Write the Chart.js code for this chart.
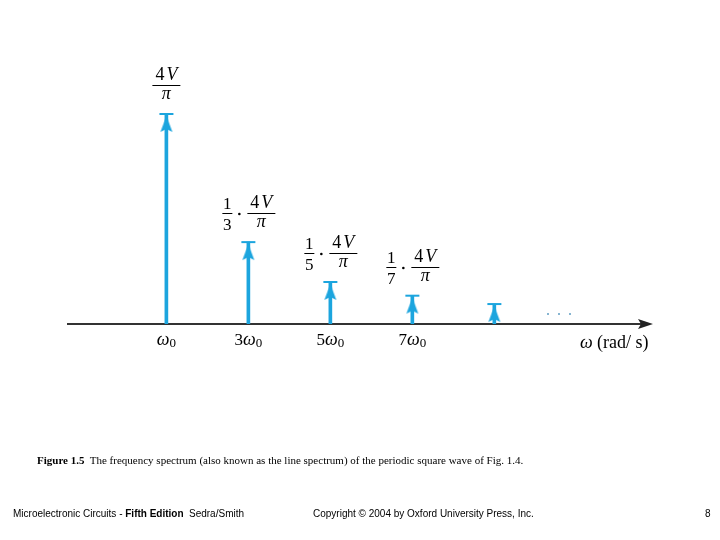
<!DOCTYPE html>
<html>
<head>
<meta charset="utf-8">
<script src="https://cdn.jsdelivr.net/npm/chart.js@4"></script>
<style>
  body { margin: 0; background: #fff; }
  #wrap { position: relative; width: 720px; height: 540px; }
  #spectrum { position: absolute; left: 0; top: 0; }
  .txt { position: absolute; white-space: nowrap; color: #000; }
  .cap { font: 11px "Liberation Serif", serif; left: 37px; top: 454px; }
  .foot { font: 10px "Liberation Sans", Arial, sans-serif; top: 508px; }
</style>
</head>
<body>
<div id="wrap">
  <canvas id="spectrum" width="720" height="540"></canvas>
  <div class="txt cap"><b>Figure 1.5</b>&nbsp; The frequency spectrum (also known as the line spectrum) of the periodic square wave of Fig. 1.4.</div>
  <div class="txt foot" style="left:13px">Microelectronic Circuits - <b>Fifth Edition</b></div>
  <div class="txt foot" style="left:189px">Sedra/Smith</div>
  <div class="txt foot" style="left:313px">Copyright © 2004 by Oxford University Press, Inc.</div>
  <div class="txt foot" style="left:705px">8</div>
</div>
<script>
// harmonic number (multiple of ω0) and relative amplitude
const harmonics = [1, 3, 5, 7, 9];
const amplitudes = [1.0, 0.39, 0.20, 0.135, 0.095];
const tickValues = [1, 3, 5, 7];
const tickPrefix = ["", "3", "5", "7"];   // drawn as <prefix>ω₀
const divisors = [1, 3, 5, 7, null];      // label is (1/n)·4V/π, none for the last one

const blue = "#1ca5de";
const serif = '"Liberation Serif", "DejaVu Serif", serif';

// arrow head + cap, centred on the top of each line
function arrowHead() {
  const c = document.createElement("canvas");
  c.width = 18; c.height = 44;
  const g = c.getContext("2d");
  g.fillStyle = blue;
  g.fillRect(2, 21, 14, 2);
  g.beginPath();
  g.moveTo(9, 24);
  g.lineTo(15, 40);
  g.lineTo(9, 37);
  g.lineTo(3, 40);
  g.closePath();
  g.fill();
  return c;
}

const points = harmonics.map((h, i) => ({ x: h, y: amplitudes[i] }));

const labelPlugin = {
  id: "labels",
  afterDraw(chart) {
    const { ctx, scales: { x, y }, chartArea } = chart;
    ctx.save();
    ctx.fillStyle = "#000";
    ctx.strokeStyle = "#000";
    ctx.textBaseline = "alphabetic";

    function bigFrac(cx, bar) {
      ctx.font = "18px " + serif;
      const w4 = ctx.measureText("4").width;
      ctx.font = "italic 18px " + serif;
      const wV = ctx.measureText("V").width;
      const left = cx - (w4 + 2 + wV) / 2;
      ctx.font = "18px " + serif;
      ctx.textAlign = "left";
      ctx.fillText("4", left, bar - 5);
      ctx.font = "italic 18px " + serif;
      ctx.fillText("V", left + w4 + 2, bar - 5);
      ctx.textAlign = "center";
      ctx.fillText("π", cx, bar + 14);
      ctx.lineWidth = 1;
      ctx.beginPath();
      ctx.moveTo(cx - 14, bar + 0.5);
      ctx.lineTo(cx + 14, bar + 0.5);
      ctx.stroke();
    }

    harmonics.forEach((h, i) => {
      const n = divisors[i];
      if (n === null) return;
      const px = x.getPixelForValue(h);
      const bar = Math.round(y.getPixelForValue(amplitudes[i])) - 29;
      if (n === 1) {
        bigFrac(px, bar);
        return;
      }
      ctx.font = "17px " + serif;
      ctx.textAlign = "center";
      ctx.fillText("1", px - 21, bar - 4);
      ctx.fillText(String(n), px - 21, bar + 17);
      ctx.lineWidth = 1;
      ctx.beginPath();
      ctx.moveTo(px - 26, bar + 0.5);
      ctx.lineTo(px - 16, bar + 0.5);
      ctx.stroke();
      ctx.beginPath();
      ctx.arc(px - 9, bar + 1, 1.3, 0, Math.PI * 2);
      ctx.fill();
      bigFrac(px + 13, bar);
    });

    // tick labels  nω₀
    const ay = chartArea.bottom;
    const base = ay + 21;
    tickValues.forEach((v, i) => {
      const px = x.getPixelForValue(v);
      ctx.font = "17px " + serif;
      const wp = ctx.measureText(tickPrefix[i]).width;
      ctx.font = "italic 18px " + serif;
      const ww = ctx.measureText("ω").width;
      ctx.font = "13px " + serif;
      const w0 = ctx.measureText("0").width;
      let cx = px - (wp + ww + w0) / 2;
      ctx.textAlign = "left";
      ctx.font = "17px " + serif;
      ctx.fillText(tickPrefix[i], cx, base);
      cx += wp;
      ctx.font = "italic 18px " + serif;
      ctx.fillText("ω", cx, base);
      cx += ww;
      ctx.font = "13px " + serif;
      ctx.fillText("0", cx, base + 2);
    });

    // arrow at the end of the frequency axis
    ctx.fillStyle = "#222";
    ctx.beginPath();
    ctx.moveTo(chartArea.right + 7, ay);
    ctx.lineTo(chartArea.right - 8, ay - 5);
    ctx.lineTo(chartArea.right - 5, ay);
    ctx.lineTo(chartArea.right - 8, ay + 5);
    ctx.closePath();
    ctx.fill();

    // ". . ." after the last line
    ctx.fillStyle = "#5f9cc2";
    [548, 559, 570].forEach(dx => {
      ctx.beginPath();
      ctx.arc(dx, ay - 10, 1, 0, Math.PI * 2);
      ctx.fill();
    });

    // axis name
    ctx.fillStyle = "#000";
    ctx.textAlign = "left";
    ctx.font = "italic 18px " + serif;
    ctx.fillText("ω", 580, ay + 24);
    ctx.font = "18px " + serif;
    ctx.fillText("(rad/ s)", 597, ay + 24);
    ctx.restore();
  }
};

new Chart(document.getElementById("spectrum"), {
  type: "bar",
  data: {
    datasets: [
      {
        type: "scatter",
        data: points,
        pointStyle: arrowHead(),
        clip: false,
        order: 0
      },
      {
        type: "bar",
        data: points,
        backgroundColor: blue,
        barThickness: 3,
        order: 1
      }
    ]
  },
  options: {
    responsive: false,
    animation: false,
    events: [],
    layout: { padding: { left: 68, right: 74, top: 72, bottom: 186 } },
    plugins: { legend: { display: false }, tooltip: { enabled: false } },
    scales: {
      x: {
        type: "linear",
        min: -1.4,
        max: 12.7,
        offset: false,
        grid: { display: false, drawTicks: false },
        border: { display: true, color: "#333", width: 2 },
        afterBuildTicks: s => { s.ticks = tickValues.map(v => ({ value: v })); },
        afterFit: s => { s.height = 30; },
        ticks: { display: false }
      },
      y: { min: 0, max: 1.2, display: false }
    }
  },
  plugins: [labelPlugin]
});
</script>
</body>
</html>
